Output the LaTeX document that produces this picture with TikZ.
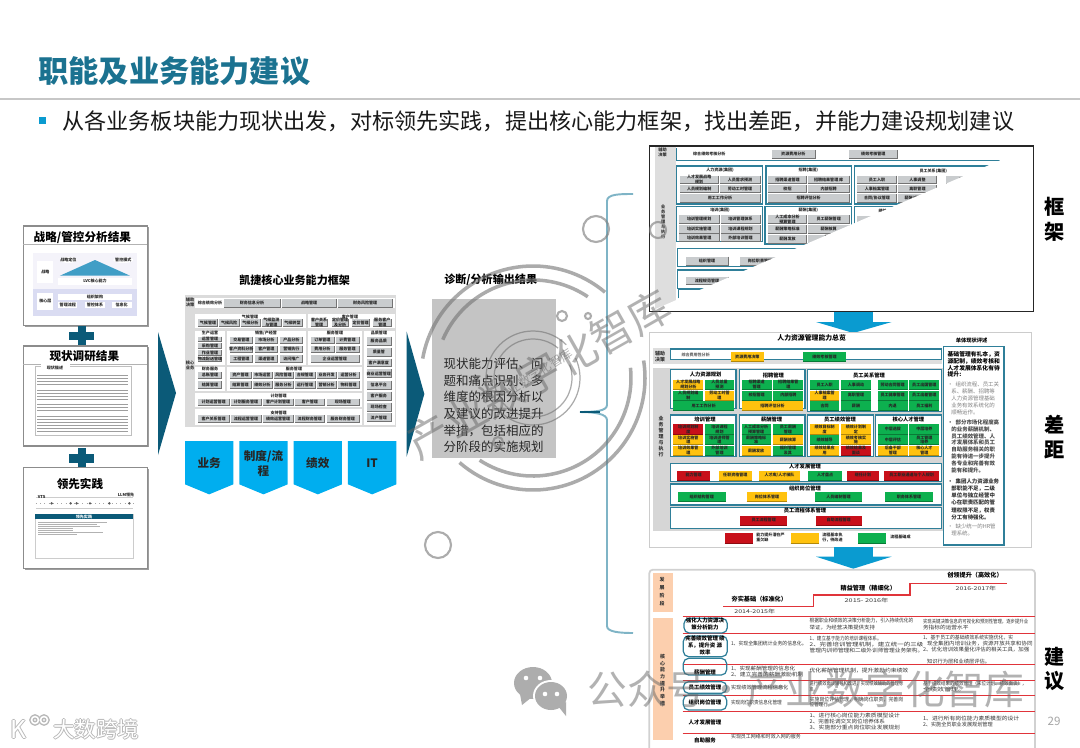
\documentclass[tikz,border=0pt]{standalone}
\usepackage{fontspec}
\usepackage{graphicx}
\setmainfont{Noto Sans CJK SC}
\usetikzlibrary{calc}
\definecolor{titleteal}{HTML}{1B7290}
\definecolor{deepteal}{HTML}{0B5A78}
\definecolor{sky}{HTML}{00AEEF}
\definecolor{arrowblue}{HTML}{0A9BD0}
\definecolor{zoneteal}{HTML}{2F7F99}
\definecolor{cellgray}{HTML}{C9CCCE}
\definecolor{cellred}{HTML}{C8101A}
\definecolor{cellyellow}{HTML}{FFC20E}
\definecolor{cellgreen}{HTML}{0DB04F}
\definecolor{orangeband}{HTML}{FCCFAE}
\definecolor{redline}{HTML}{E0343A}
\definecolor{bracecol}{HTML}{7FB4C6}
\tikzset{
  tinytext/.style={font=\fontsize{2.3}{2.7}\selectfont\bfseries,align=center,inner sep=0,text=black!85},
  smalltext/.style={font=\fontsize{5}{6}\selectfont,align=left,inner sep=0,anchor=west,text=black!80},
  headtext/.style={font=\fontsize{3}{3.6}\selectfont\bfseries,align=center,inner sep=0},
  stagetext/.style={font=\fontsize{3.5}{4.2}\selectfont\bfseries,align=center,inner sep=0},
  boxtitle/.style={font=\fontsize{6.6}{8}\selectfont\bfseries,inner sep=0},
  sidebox/.style={draw=black!45,line width=0.8pt,fill=white},
  ring/.style={draw=black!55,draw opacity=.6,line width=2pt},
  thinring/.style={draw=black!55,draw opacity=.6,line width=.7pt},
  dotring/.style={draw=black!50,draw opacity=.65,line width=1.2pt},
  wmtext/.style={text=black!60,text opacity=.5,inner sep=0},
  chev/.style={fill=sky},
  chevtext/.style={font=\fontsize{6.6}{8.6}\selectfont\bfseries,align=center,inner sep=0,text=black!85},
  railA/.style={font=\fontsize{2.4}{2.85}\selectfont\bfseries,align=center,inner sep=0,text=black!80},
  railB/.style={font=\fontsize{2.8}{3.5}\selectfont\bfseries,align=center,inner sep=0,text=black!80},
  railC/.style={font=\fontsize{2.8}{3.8}\selectfont\bfseries,align=center,inner sep=0,text=black!80},
  railD/.style={font=\fontsize{2.8}{4.4}\selectfont\bfseries,align=center,inner sep=0,text=black!80},
  sidelabel/.style={font=\fontsize{11.5}{13}\selectfont\bfseries,inner sep=0},
  brace/.style={draw=bracecol,line width=1.1pt},
  rowhead/.style={font=\fontsize{3.1}{4}\selectfont\bfseries,align=center,inner sep=0,text=black},
  wavy/.style={draw=zoneteal,line width=.7pt,rounded corners=3pt},
  assess/.style={inner sep=0,anchor=north west,align=left},
}
\newcommand\fw[2]{\resizebox{#1\dimexpr0.18897pt\relax}{2.5pt}{#2}}
\newcommand\gcell[5]{\fill[cellgray] (#1,#2) rectangle (#3,#4);
  \draw[black!55,line width=.35pt] (#3,#2) -- (#3,#4) -- (#1,#4);
  \node[tinytext] at ($(#1,#2)!.5!(#3,#4)$) {#5};}
\newcommand\ccell[6]{\fill[#5] (#1,#2) rectangle (#3,#4);
  \draw[#5!70!black,line width=.5pt] (#1,#4) -- (#3,#4);
  \node[tinytext] at ($(#1,#2)!.5!(#3,#4)$) {#6};}
\newcommand\zone[4]{\fill[white] (#1,#2) rectangle (#3,#4);\draw[zoneteal,line width=.8pt] (#1,#2) rectangle (#3,#4);}
\newcommand\rarc[4]{\draw[#4] ($(533,378)+(-#1:#3)$) arc[start angle=-#1,end angle=-#2,radius=#3];}
\begin{document}
\begin{tikzpicture}[x=0.02cm,y=-0.02cm]
\useasboundingbox (0,0) rectangle (1080,748);
\fill[white] (0,0) rectangle (1080,748);
\begin{scope}
\clip (0,0) rectangle (1080,748);

% header
\node[font=\fontsize{17.2}{20}\selectfont\bfseries,text=titleteal,anchor=west,inner sep=0] (title) at (38,71) {职能及业务能力建议};
\draw[black!22,line width=.9pt] (0,99) -- (1080,99);
\fill[arrowblue] (39,117) rectangle (46,124);
\node[font=\fontsize{12.6}{15}\selectfont,text=black!90,anchor=west,inner sep=0] (subtitle) at (62,121) {从各业务板块能力现状出发，对标领先实践，提出核心能力框架，找出差距，并能力建设规划建议};

% left column, zoom coordinates
\begin{scope}[shift={(0,210)},scale=1/3]
  \fill[black!38] (74,52) rectangle (446,351);
  \draw[sidebox] (70,48) rectangle (442,347);
  \draw[black!30,line width=.5pt] (70,102) -- (442,102);
  \node[boxtitle] (b1) at (247,83) {战略/管控分析结果};
  \fill[cyan!10!blue!4] (100,130) rectangle (412,318);
  \fill[cyan!30!blue!14] (100,238) rectangle (412,318);
  \fill[white] (112,152) rectangle (160,220);
  \node[tinytext] at (136,186) {战略};
  \fill[white] (205,150) ellipse[x radius=25,y radius=9];
  \fill[white] (370,150) ellipse[x radius=30,y radius=9];
  \node[tinytext] at (205,150) {战略定位};
  \node[tinytext] at (370,150) {管控模式};
  \fill[blue!30!cyan!70!black!75] (285,150) -- (180,197) -- (390,197) -- cycle;
  \fill[white] (175,205) rectangle (395,225);
  \node[tinytext] at (285,214) {LVC核心能力};
  \fill[white] (112,248) rectangle (160,300);
  \node[tinytext] at (136,272) {核心层};
  \fill[white] (175,253) rectangle (395,270);
  \node[tinytext] at (285,262) {组织架构};
  \foreach \a/\b/\t in {175/232/管理流程,255/315/管控体系,335/395/信息化}{
    \fill[white] (\a,275) rectangle (\b,295);
    \node[tinytext] at ({(\a+\b)/2},285) {\t};}

  \fill[deepteal] (208,365) rectangle (283,390);
  \fill[deepteal] (235,347) rectangle (257,405);

  \fill[black!38] (74,412) rectangle (446,712);
  \draw[sidebox] (70,408) rectangle (442,708);
  \draw[black!30,line width=.5pt] (70,462) -- (442,462);
  \node[boxtitle] (b2) at (253,437) {现状调研结果};
  \draw[black!25,line width=.5pt] (105,468) rectangle (395,675);
  \fill[white] (122,462) rectangle (210,482);
  \node[tinytext] at (165,473) {现状描述};
  \foreach \y in {495,504,513,522,540,549,558,567,582,591,600,618,627,636,645,654,663}{
    \draw[black!38,line width=.4pt] (112,\y) -- (385,\y);}

  \fill[deepteal] (208,733) rectangle (283,758);
  \fill[deepteal] (235,715) rectangle (257,775);

  \fill[black!38] (74,776) rectangle (446,1079);
  \draw[sidebox] (70,772) rectangle (442,1075);
  \node[boxtitle] (b3) at (240,823) {领先实践};
  \draw[black!20,line width=.4pt] (108,862) -- (400,862);
  \draw[black!20,line width=.4pt] (108,895) -- (400,895);
  \draw[black!35,dotted,line width=.4pt] (108,880) -- (400,880);
  \foreach \x in {155,212,230,270,328,388}{\fill[black!65] (\x,880) circle[radius=4];}
  \node[tinytext] at (125,860) {VTS};
  \node[tinytext] at (378,855) {LLM领先};
  \draw[black!20,line width=.4pt] (105,912) rectangle (400,1045);
  \fill[deepteal] (105,912) rectangle (400,927);
  \node[tinytext,text=white] at (252,920) {领先实践};
  \foreach \y/\e in {936/320,942/290,948/300,954/220,960/220,966/310,972/230}{
    \draw[black!30,line width=.35pt] (115,\y) -- (\e,\y);}
\end{scope}

% first big arrow
\fill[deepteal] (158,332) -- (176,393) -- (158,455) -- cycle;

% middle framework, zoom coordinates
\begin{scope}[shift={(170,260)},scale=1/3]
  \node[boxtitle,font=\fontsize{6.3}{8}\selectfont\bfseries] (fwtitle) at (374,60) {凯捷核心业务能力框架};
  \fill[black!14] (45,105) rectangle (677,500);
  \fill[white] (75,115) rectangle (675,145);
  \node[railA] at (60,127) {辅助\\决策};
  \node[railA] at (60,315) {核心\\业务};
  \node[tinytext] at (120,128) {综合绩效分析};
  \gcell{162}{118}{330}{142}{财务信息分析}
  \gcell{335}{118}{500}{142}{战略管理}
  \gcell{503}{118}{668}{142}{财务风险管理}
  \fill[white] (75,155) rectangle (675,495);
  \fill[black!14] (75,155) rectangle (675,162);
  \fill[black!14] (408,155) rectangle (413,205);
  \fill[black!14] (408,205) rectangle (413,315);
  \fill[black!14] (75,205) rectangle (675,212);
  \fill[black!14] (75,315) rectangle (578,320);
  \fill[black!14] (75,392) rectangle (578,400);
  \fill[black!14] (75,442) rectangle (578,448);
  \fill[black!14] (164,205) rectangle (171,392);
  \fill[black!14] (576,205) rectangle (582,495);
  \node[tinytext] at (240,170) {气候管理};
  \foreach \a/\b/\t in {85/143/气候管理,148/207/气候风险,212/270/气候分析,275/333/气候监测\\与管理,338/397/气候转型}{
    \gcell{\a}{178}{\b}{198}{\t}}
  \node[tinytext] at (540,170) {客户管理};
  \foreach \a/\b/\t in {422/473/客户关系\\管理,485/536/定价管理\\及分析,546/598/定价管理,610/664/服务客户\\管理}{
    \gcell{\a}{178}{\b}{198}{\t}}
  \node[tinytext] at (120,219) {生产运营};
  \foreach \a/\b/\t in {230/245/运营管理,250/265/采购管理,270/285/作业管理,290/305/物流配送管理}{
    \gcell{85}{\a}{155}{\b}{\t}}
  \node[tinytext] at (288,219) {销售/产经营};
  \foreach \a/\b/\t/\u/\v in {230/250/交易管理/市场分析/产品分析,258/278/客户资料分析/客户管理/营销执行,285/308/工程管理/渠道管理/访问推广}{
    \gcell{180}{\a}{248}{\b}{\t}\gcell{255}{\a}{323}{\b}{\u}\gcell{330}{\a}{398}{\b}{\v}}
  \node[tinytext] at (495,219) {服务管理};
  \gcell{422}{230}{492}{250}{订单管理}\gcell{498}{230}{567}{250}{计费管理}
  \gcell{422}{258}{492}{278}{费用分析}\gcell{498}{258}{567}{278}{服务管理}
  \gcell{422}{285}{567}{308}{企业运营管理}
  \node[tinytext] at (627,219) {品质管理};
  \foreach \a/\b/\t in {230/255/服务品质,263/288/质量管,296/320/客户满意度,328/353/商业运营管理,362/387/信息平台,395/420/客户服务,428/453/现场检查,460/485/流产管理}{
    \gcell{590}{\a}{663}{\b}{\t}}
  \node[tinytext] at (120,328) {财务服务};
  \gcell{85}{336}{155}{356}{总账管理}\gcell{85}{363}{155}{385}{结算管理}
  \node[tinytext] at (372,328) {服务管理};
  \foreach \a/\b/\t/\u in {180/243/资产管理/结算管理,248/306/市场运营/绩效分析,311/370/风险管理/服务分析,375/435/合规管理/运行管理,440/500/业务开发/营销分析,505/567/运营分析/物料管理}{
    \gcell{\a}{336}{\b}{356}{\t}\gcell{\a}{363}{\b}{385}{\u}}
  \node[tinytext] at (326,407) {计划管理};
  \foreach \a/\b/\t in {85/177/计划运营管理,183/273/计划服务管理,279/370/客户计划管理,376/463/客户管理,470/567/现场管理}{
    \gcell{\a}{416}{\b}{436}{\t}}
  \node[tinytext] at (326,458) {支持管理};
  \foreach \a/\b/\t in {85/177/客户关系管理,183/273/流程运营管理,279/370/绩效运营管理,376/463/流程财务管理,470/567/服务财务管理}{
    \gcell{\a}{466}{\b}{486}{\t}}
  % chevrons
  \foreach \a/\t in {45/{业务},208/{制度/流\\程},371/{绩效},534/{IT}}{
    \fill[chev] (\a,543) -- ({\a+145},543) -- ({\a+145},673) -- ({\a+72.5},703) -- (\a,673) -- cycle;
    \node[chevtext] at ({\a+72.5},610) {\t};}
  % second arrow
  \fill[deepteal] (710,215) -- (763,402) -- (710,590) -- cycle;
  \node[boxtitle,font=\fontsize{6.3}{8}\selectfont\bfseries] (outtitle) at (962,60) {诊断/分析输出结果};
  \fill[black!23] (787,118) rectangle (1157,595);
  \node[font=\fontsize{7.1}{9.5}\selectfont,align=left,inner sep=0,anchor=north west,text=black!85] (outtext) at (820,293) {现状能力评估、问\\题和痛点识别、多\\维度的根因分析以\\及建议的改进提升\\举措，包括相应的\\分阶段的实施规划};
\end{scope}

% brace
\draw[brace] (633,194) .. controls (620,194) and (607,194) .. (607,201) -- (607,405) .. controls (607,411) and (595,412) .. (580,412);
\draw[brace] (580,412) .. controls (595,412) and (607,414) .. (607,420) -- (607,626) .. controls (607,632) and (620,633) .. (633,633);
\draw[deepteal,line width=.8pt] (580,412) -- (600,412);

% top right panel
\begin{scope}[shift={(640,140)},scale=1/3]
  \fill[black!13] (45,18) rectangle (108,510);
  \node[railA] at (68,37) {辅助\\决策};
  \node[railA] at (70,247) {业\\务\\管\\理\\与\\执\\行};
  \draw[zoneteal,line width=.8pt] (1080,62) -- (110,62) -- (110,25);
  \node[tinytext] at (208,42) {综合绩效考核分析};
  \gcell{395}{30}{525}{55}{资源费用分析}
  \gcell{628}{30}{772}{55}{绩效考核管理}
  \zone{110}{78}{367}{192}
  \node[tinytext] at (240,92) {人力资源(集团)};
  \gcell{120}{107}{235}{130}{人才发展战略\\规划}\gcell{240}{107}{360}{130}{人员需求预测}
  \gcell{120}{136}{235}{158}{人员规划编制}\gcell{240}{136}{360}{158}{劳动工时管理}
  \gcell{120}{162}{360}{188}{用工工作分析}
  \zone{378}{78}{634}{192}
  \node[tinytext] at (505,92) {招聘(集团)};
  \gcell{385}{107}{500}{130}{招聘渠道管理}\gcell{505}{107}{627}{130}{招聘结果管理\ 库}
  \gcell{385}{136}{500}{158}{校招}\gcell{505}{136}{627}{158}{内部招聘}
  \gcell{385}{162}{627}{188}{招聘评估分析}
  \zone{643}{78}{1050}{192}
  \node[tinytext] at (880,92) {员工关系(集团)};
  \gcell{652}{107}{770}{130}{员工入职}\gcell{775}{107}{890}{130}{人事调整}\gcell{918}{107}{1040}{130}{员工退休}
  \gcell{652}{136}{770}{158}{人事档案管理}\gcell{775}{136}{890}{158}{离职管理}
  \gcell{652}{162}{770}{188}{合同/协议管理}\gcell{775}{162}{890}{188}{薪酬/保险管理}
  \zone{110}{200}{367}{305}
  \node[tinytext] at (240,212) {培训(集团)};
  \foreach \a/\b/\t/\u in {225/250/培训管理规划/培训管理体系,255/280/培训实施管理/培训课程规划,283/305/培训效果管理/外部培训管理}{
    \gcell{118}{\a}{237}{\b}{\t}\gcell{243}{\a}{360}{\b}{\u}}
  \zone{375}{200}{634}{312}
  \node[tinytext] at (505,212) {薪酬(集团)};
  \gcell{385}{225}{500}{250}{人工成本分析\\预算管理}\gcell{505}{225}{627}{250}{员工薪酬管理}
  \gcell{385}{255}{500}{280}{薪酬策略标准}\gcell{505}{255}{627}{280}{薪酬核算}
  \gcell{385}{285}{500}{310}{薪酬发放}\gcell{505}{285}{627}{310}{福利\\管理}
  \zone{643}{200}{1000}{312}
  \node[tinytext] at (728,212) {绩效};
  \gcell{652}{228}{770}{250}{绩效计划}
  \zone{112}{326}{800}{380}
  \gcell{137}{350}{265}{375}{组织管理}\gcell{300}{350}{420}{375}{岗位职责管理}
  \zone{112}{390}{600}{445}
  \gcell{137}{410}{265}{433}{流程规范管理}
  \draw[zoneteal,line width=.8pt] (115,475) -- (115,447) -- (190,447);
  % white wedge
  \fill[white] (1180,18) -- (1180,515) -- (28,515) -- cycle;
  \draw[black!85,line width=.9pt] (28,18) rectangle (1180,515);
  % down arrow
  \fill[arrowblue] (582,515) rectangle (700,546);
  \fill[arrowblue] (528,546) -- (755,546) -- (640,579) -- cycle;
\end{scope}

% second right panel
\begin{scope}[shift={(640,320)},scale=1/3]
  \fill[white] (28,38) rectangle (1175,682);
  \draw[black!20,line width=.8pt] (28,38) rectangle (1175,682);
  \node[font=\fontsize{3.9}{5}\selectfont\bfseries,inner sep=0] (gaptitle) at (515,55) {人力资源管理能力总览};
  \fill[black!13] (40,85) rectangle (905,132);
  \node[railB] at (60,110) {辅助\\决策};
  \zone{92}{87}{905}{118}
  \node[tinytext,text=black!60] at (167,105) {综合费用性分析};
  \ccell{272}{95}{372}{125}{cellyellow}{资源费用决策}
  \ccell{490}{95}{617}{125}{cellgreen}{绩效考核管理}
  \fill[black!16] (40,143) rectangle (910,632);
  \node[railB] at (63,350) {业\\务\\管\\理\\与\\执\\行};
  \zone{92}{148}{288}{265}
  \node[headtext] at (197,165) {人力资源规划};
  \ccell{100}{180}{190}{208}{cellyellow}{人才发展战略\\规划分析}
  \ccell{195}{180}{282}{208}{cellgreen}{人员总量\\预测}
  \ccell{100}{213}{190}{241}{cellgreen}{人员规划编\\制}
  \ccell{195}{213}{282}{241}{cellyellow}{劳动工时管\\理}
  \ccell{100}{244}{282}{270}{cellgreen}{用工工作分析}
  \zone{298}{148}{495}{265}
  \node[headtext] at (400,165) {招聘管理};
  \ccell{305}{180}{395}{208}{cellgreen}{招聘渠道\\管理}
  \ccell{400}{180}{490}{208}{cellgreen}{招聘结果管\\理}
  \ccell{305}{212}{395}{240}{cellgreen}{校招管理}
  \ccell{400}{212}{490}{240}{cellgreen}{内部招聘}
  \ccell{305}{244}{490}{272}{cellyellow}{招聘评估分析}
  \zone{502}{148}{905}{275}
  \node[headtext] at (687,165) {员工关系管理};
  \foreach \a/\b/\cp/\t/\u/\v in {510/598/cellgreen/员工入职/人事调整/合同/协议管理,603/693/cellgreen/人事调动/离职管理/薪酬/保险管理,713/803/cellgreen/劳动合同管理/员工健康管理/内退/退休管理,808/898/cellgreen/员工出国管理/员工出差管理/员工福利}{
    \ccell{\a}{180}{\b}{208}{\cp}{\t}\ccell{\a}{212}{\b}{240}{\cp}{\u}\ccell{\a}{243}{\b}{272}{\cp}{\v}}
  \ccell{510}{212}{598}{240}{cellyellow}{人事档案管\\理}
  \zone{92}{285}{288}{410}
  \node[headtext] at (195,297) {培训管理};
  \ccell{100}{313}{190}{342}{cellred}{培训规划制\\度}\ccell{195}{313}{282}{342}{cellgreen}{培训课程\\规划}
  \ccell{100}{345}{190}{374}{cellyellow}{培训实施管\\理}\ccell{195}{345}{282}{374}{cellgreen}{培训讲师管\\理}
  \ccell{100}{377}{190}{406}{cellyellow}{培训效果管\\理}\ccell{195}{377}{282}{406}{cellgreen}{外部培训\\管理}
  \zone{298}{285}{495}{410}
  \node[headtext] at (395,297) {薪酬管理};
  \ccell{305}{313}{392}{342}{cellgreen}{人工成本分析\\预算管理}\ccell{398}{313}{490}{342}{cellgreen}{员工薪酬\\管理}
  \ccell{305}{345}{392}{374}{cellgreen}{薪酬策略标\\准}\ccell{398}{345}{490}{374}{cellyellow}{薪酬核算}
  \ccell{305}{377}{392}{406}{cellyellow}{薪酬发放}\ccell{398}{377}{490}{406}{cellgreen}{福利管理\\及其}
  \zone{502}{285}{700}{410}
  \node[headtext] at (600,297) {员工绩效管理};
  \ccell{510}{313}{598}{342}{cellyellow}{绩效目标制\\度}\ccell{603}{313}{693}{342}{cellyellow}{绩效计划制\\定}
  \ccell{510}{345}{598}{374}{cellgreen}{绩效辅导}\ccell{603}{345}{693}{374}{cellyellow}{绩效考核实\\施}
  \ccell{510}{377}{598}{406}{cellyellow}{绩效结果应\\用}\ccell{603}{377}{693}{406}{cellred}{绩效结果及\\面谈}
  \zone{707}{285}{905}{410}
  \node[headtext] at (805,297) {核心人才管理};
  \ccell{714}{313}{803}{342}{cellgreen}{中层选拔}\ccell{808}{313}{898}{342}{cellgreen}{中层培养}
  \ccell{714}{345}{803}{374}{cellgreen}{中层评估}\ccell{808}{345}{898}{374}{cellgreen}{员工管理\\培养}
  \ccell{714}{377}{803}{406}{cellyellow}{后备干部\\管理}\ccell{808}{377}{898}{406}{cellyellow}{核心人才\\管理}
  \zone{92}{430}{905}{485}
  \node[headtext] at (495,438) {人才发展管理};
  \ccell{112}{452}{210}{480}{cellred}{能力管理}
  \ccell{237}{452}{335}{480}{cellyellow}{任职资格管理}
  \ccell{357}{452}{480}{480}{cellyellow}{人才库/人才梯队}
  \ccell{505}{452}{606}{480}{cellgreen}{人才盘点}
  \ccell{621}{452}{717}{480}{cellred}{继任计划}
  \ccell{732}{452}{898}{480}{cellred}{员工职业通道与个人规划}
  \zone{92}{492}{905}{555}
  \node[headtext] at (495,505) {组织岗位管理};
  \ccell{113}{516}{257}{545}{cellgreen}{组织结构管理}
  \ccell{320}{516}{442}{545}{cellyellow}{岗位体系管理}
  \ccell{526}{516}{665}{545}{cellgreen}{人员编制管理}
  \ccell{736}{516}{878}{545}{cellgreen}{职务体系管理}
  \zone{92}{562}{905}{625}
  \node[headtext] at (495,570) {员工流程体系管理};
  \ccell{300}{587}{442}{615}{cellred}{员工流程管理}
  \ccell{527}{587}{665}{615}{cellred}{自助流程管理}
  \ccell{254}{640}{338}{670}{cellred}{}
  \node[tinytext,anchor=west,align=left] at (348,652) {能力提升潜在严\\重欠缺};
  \ccell{452}{640}{536}{670}{cellyellow}{}
  \node[tinytext,anchor=west,align=left] at (546,652) {流程基本执\\行，待改进};
  \ccell{655}{640}{739}{670}{cellgreen}{}
  \node[tinytext,anchor=west,align=left] at (750,652) {流程基础成};
  % assessment
  \node[headtext] (assess) at (995,60) {单体现状评述};
  \draw[zoneteal,line width=.8pt,fill=white] (910,80) rectangle (1092,675);
  \node[assess,font=\fontsize{3.3}{3.9}\selectfont\bfseries] (p1) at (922,93) {基础管理有礼本，资\\源配制，绩效考核和\\人才发展体系化有待\\提升:};
  \node[assess,font=\fontsize{3.1}{3.9}\selectfont,text=black!50] (p2) at (922,186) {•\ \ 组织流程、员工关\\\ \ \ 系、薪酬、招聘等\\\ \ \ 人力资源管理基础\\\ \ \ 业务有效系统化的\\\ \ \ 顺畅运作。};
  \node[assess,font=\fontsize{3.1}{3.9}\selectfont\bfseries,text=black!70] (p3) at (922,298) {•\ \ 部分市场化程度高\\\ \ \ 的业务薪酬机制、\\\ \ \ 员工绩效管理、人\\\ \ \ 才发展体系和员工\\\ \ \ 自助服务相关的职\\\ \ \ 能有待进一步提升\\\ \ \ 各专业和完善有效\\\ \ \ 能有和提升。};
  \node[assess,font=\fontsize{3.1}{4.1}\selectfont\bfseries,text=black!80] (p4) at (922,475) {•\ \ 集团人力资源业务\\\ \ \ 部职能不足，二级\\\ \ \ 单位与独立经营中\\\ \ \ 心在职责匹配的管\\\ \ \ 理权限不足，权责\\\ \ \ 分工有待强化。};
  \node[assess,font=\fontsize{3.1}{4.2}\selectfont,text=black!50] (p5) at (922,610) {•\ \ 缺少统一的HR管\\\ \ \ 理系统。};
  % down arrow
  \fill[arrowblue] (582,682) rectangle (700,712);
\end{scope}

% third right panel
\begin{scope}[shift={(640,555)},scale=1/3]
  \fill[arrowblue] (528,5) -- (755,5) -- (640,41) -- cycle;
  \draw[black!18,line width=1pt,rounded corners=2pt] (28,44) -- (1185,44) -- (1185,600) -- (28,600) -- cycle;
  \fill[orangeband] (40,53) rectangle (100,170);
  \node[railD] at (66,110) {发\\展\\阶\\段};
  \fill[orangeband] (40,190) rectangle (100,555);
  \node[railC] at (68,375) {核\\心\\能\\力\\提\\升\\举\\措};
  \draw[redline,line width=.9pt] (250,155) -- (520,155) -- (520,120) -- (810,120) -- (810,85) -- (1100,85);
  \node[stagetext] at (358,133) {夯实基础（标准化）};
  \node[smalltext] at (282,170) {\fw{123}{2014-2015年}};
  \node[stagetext] at (685,99) {精益管理（精细化）};
  \node[smalltext] at (613,136) {\fw{132}{2015- 2016年}};
  \node[stagetext] at (1005,59) {创领提升（高效化）};
  \node[smalltext] at (946,102) {\fw{122}{2016-2017年}};
  \foreach \y in {185,235,329,377,422,469,535}{\draw[redline,line width=.8pt] (128,\y) -- (1185,\y);}
  \draw[wavy] (132,190) rectangle (262,234);
  \draw[wavy] (130,243) rectangle (262,305);
  \draw[wavy] (130,310) rectangle (260,360);
  \draw[wavy] (130,380) rectangle (260,415);
  \draw[wavy] (130,420) rectangle (260,465);
  \node[rowhead] at (195,208) {强化人力资源决\\策分析能力};
  \node[rowhead] at (195,272) {完善绩效管理 绩\\系，提升资 源\\效率};
  \node[rowhead] at (195,352) {薪酬管理};
  \node[rowhead] at (195,397) {员工绩效管理};
  \node[rowhead] at (195,442) {组织岗位管理};
  \node[rowhead] at (195,503) {人才发展管理};
  \node[rowhead] at (195,555) {自助服务};
  \node[smalltext] at (272,265) {\fw{228}{1、实现全集团统计业务的信息化。}};
  \node[smalltext] at (272,340) {\fw{193}{1、实现薪酬管理的信息化}};
  \node[smalltext] at (272,358) {\fw{218}{2、建立完善的薪酬激励机制}};
  \node[smalltext] at (272,397) {\fw{173}{实现绩效管理流程信息化}};
  \node[smalltext] at (272,442) {\fw{153}{实现岗位职责信息化管理}};
  \node[smalltext] at (272,545) {\fw{210}{实现员工网络和时效入网的服务}};
  \node[smalltext] at (508,197) {\fw{312}{根据职业和绩效的决策分析能力，引入持续优化的}};
  \node[smalltext] at (508,217) {\fw{197}{举证，为经营决策提供支持}};
  \node[smalltext] at (508,252) {\fw{217}{1、建立基于能力的培训课程体系。}};
  \node[smalltext] at (508,270) {\fw{342}{2、完善培训管理机制，建立统一的三级}};
  \node[smalltext] at (508,287) {\fw{342}{管理内训师管理和二级外训师管理业务架构。}};
  \node[smalltext] at (508,348) {\fw{297}{优化薪酬管理机制，提升激励约束绩效}};
  \node[smalltext] at (508,387) {\fw{282}{进行绩效面谈辅导和改进，实现绩效辅助的管理标}};
  \node[smalltext] at (508,405) {\fw{22}{准。}};
  \node[smalltext] at (508,433) {\fw{282}{实施岗位评估管理，明确岗位职责，完善岗}};
  \node[smalltext] at (508,450) {\fw{55}{位管理行}};
  \node[smalltext] at (508,482) {\fw{272}{1、进行核心岗位能力素质模型设计}};
  \node[smalltext] at (508,500) {\fw{227}{2、完善轮调交叉岗位培养体系}};
  \node[smalltext] at (508,518) {\fw{272}{3、实施部分重点岗位职业发展规划}};
  \node[smalltext] at (848,199) {\fw{317}{实现关键决策信息的可视化和预测性管理，逐步提升业}};
  \node[smalltext] at (848,218) {\fw{137}{务指标的运营水平}};
  \node[smalltext] at (848,247) {\fw{272}{1、基于员工的基础绩效系统实施优化，实}};
  \node[smalltext] at (860,265) {\fw{318}{现全集团内培训业务，资源开放共享和协同}};
  \node[smalltext] at (848,283) {\fw{320}{2、优化培训效果量化评估的相关工具，加强}};
  \node[smalltext] at (860,320) {\fw{190}{知识行为层和业绩层评估。}};
  \node[smalltext] at (848,387) {\fw{312}{基于绩效结果的绩效管理（末位计划、绩效面谈），}};
  \node[smalltext] at (848,405) {\fw{127}{全绩效管理。}};
  \node[smalltext] at (848,490) {\fw{290}{1、进行所有岗位能力素质模型的设计}};
  \node[smalltext] at (848,508) {\fw{210}{2、实施全员职业发展规划管理}};
\end{scope}

% side labels
\node[sidelabel] (s1) at (1055,207) {框};
\node[sidelabel] (s2) at (1055,232) {架};
\node[sidelabel] (s3) at (1055,425) {差};
\node[sidelabel] (s4) at (1055,450) {距};
\node[sidelabel] (s5) at (1055,657) {建};
\node[sidelabel] (s6) at (1055,681) {议};
\node[font=\fontsize{6.6}{8}\selectfont,text=black!35,inner sep=0] (pageno) at (1054,721) {29};

% stamp watermark
\coordinate (stampc) at (533,378);
\rarc{50}{170}{112}{ring}
\rarc{229}{369}{112}{ring}
\rarc{56}{157}{98}{ring}
\rarc{237}{366}{98}{ring}
\rarc{45}{205}{47}{thinring}
\rarc{215}{385}{47}{thinring}
\rarc{50}{200}{39}{thinring}
\rarc{220}{380}{39}{thinring}
\foreach \x/\y/\r in {596/229/13,438/545/13,562/316/5,588/316/3,498/442/5,658/230/8}{
  \draw[dotring] (\x,\y) circle[radius=\r];}
\node[wmtext,rotate=29.5,font=\fontsize{24}{26}\selectfont] (stamp) at (539,374) {产业数字化智库};
\node[wmtext,rotate=33,font=\fontsize{7}{8}\selectfont] (stampin) at (535,375) {产业数字化智库};

% bottom watermark
\fill[black!32] (533,683) ellipse[x radius=19,y radius=16];
\fill[black!32] (520,694) -- (522,705) -- (532,697) -- cycle;
\fill[white] (551,696) ellipse[x radius=18,y radius=16];
\fill[black!32] (551,696) ellipse[x radius=16,y radius=14];
\fill[black!32] (558,706) -- (566,716) -- (566,702) -- cycle;
\foreach \x/\y in {526/678,540/678,545/694,557/694}{\fill[white] (\x,\y) circle[radius=2.3];}
\node[wmtext,anchor=west,font=\fontsize{22.6}{24}\selectfont] (wm) at (587,689) {公众号·产业数字化智库};

% bottom left mark
\foreach \dx/\dy in {-1/0,1/0,0/-1,0/1}{
  \node[font=\fontsize{12.2}{14}\selectfont,text=black!28,anchor=west,inner sep=0] at ({53+\dx},{729+\dy}) {大数跨境};
  \node[font=\fontsize{14}{14}\selectfont,text=black!28,anchor=west,inner sep=0] at ({10+\dx},{729+\dy}) {K};
  \draw[black!28,line width=1.5pt] ({35+\dx},{720+\dy}) circle[radius=3.5];
  \draw[black!28,line width=1.5pt] ({44+\dx},{720+\dy}) circle[radius=3.5];
}
\node[font=\fontsize{12.2}{14}\selectfont,text=white,anchor=west,inner sep=0] (mark) at (53,729) {大数跨境};
\node[font=\fontsize{14}{14}\selectfont,text=white,anchor=west,inner sep=0] (markk) at (10,729) {K};
\draw[white,line width=.9pt] (35,720) circle[radius=3.5];
\draw[white,line width=.9pt] (44,720) circle[radius=3.5];
\end{scope}
\end{tikzpicture}
\end{document}
